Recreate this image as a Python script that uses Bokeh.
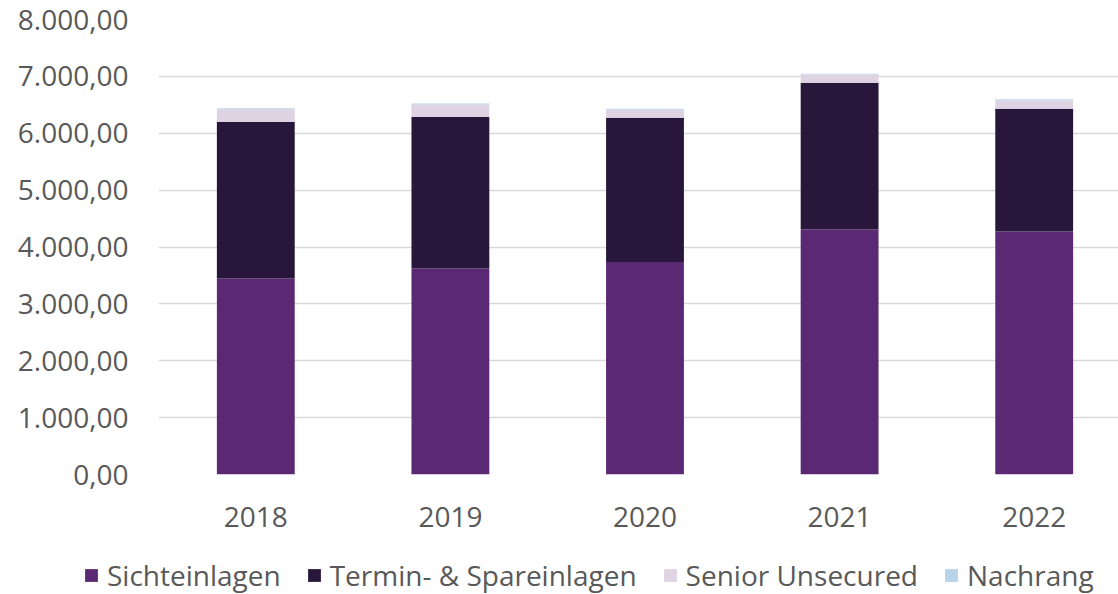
from bokeh.plotting import figure
from bokeh.models import ColumnDataSource, FixedTicker, Range1d, Legend, LegendItem
from bokeh.embed import file_html
from bokeh.resources import INLINE

years = ["2018", "2019", "2020", "2021", "2022"]
sichteinlagen = [3445, 3621, 3738, 4308, 4273]
termin_spar = [2755, 2664, 2535, 2582, 2159]
senior_unsecured = [222, 222, 141, 141, 146]
nachrang = [18, 18, 18, 17, 20]
series_names = ["Sichteinlagen", "Termin- & Spareinlagen", "Senior Unsecured", "Nachrang"]
colors = ["#5B2873", "#28173A", "#DED3E3", "#B9D3E8"]
y_ticks = [0, 1000, 2000, 3000, 4000, 5000, 6000, 7000, 8000]
y_tick_labels = ["0,00", "1.000,00", "2.000,00", "3.000,00", "4.000,00",
                 "5.000,00", "6.000,00", "7.000,00", "8.000,00"]

FONT = "Open Sans"
TXT = "#595959"

xs = list(range(len(years)))
src = ColumnDataSource(dict(x=xs, s=sichteinlagen, t=termin_spar, u=senior_unsecured, n=nachrang))

p = figure(width=1118, height=540, output_backend="svg", toolbar_location=None,
           x_range=Range1d(-0.5, -0.5 + 960 / 194.6), y_range=Range1d(0, 8000),
           min_border_left=158, min_border_right=0, min_border_top=19, min_border_bottom=66)
p.outline_line_color = None

renderers = p.vbar_stack(["s", "t", "u", "n"], x="x", width=0.40, source=src,
                         color=colors, line_color=None)

p.xaxis.ticker = FixedTicker(ticks=xs)
p.xaxis.major_label_overrides = {i: y for i, y in enumerate(years)}
p.yaxis.ticker = FixedTicker(ticks=y_ticks)
p.yaxis.major_label_overrides = {t: l for t, l in zip(y_ticks, y_tick_labels)}

for ax in (p.xaxis[0], p.yaxis[0]):
    ax.axis_line_color = None
    ax.major_tick_line_color = None
    ax.minor_tick_line_color = None
    ax.major_label_text_font = FONT
    ax.major_label_text_font_size = "28px"
    ax.major_label_text_color = TXT
p.yaxis.major_label_standoff = 24
p.xaxis.major_label_standoff = 26

p.xgrid.grid_line_color = None
p.ygrid.grid_line_color = "#D9D9D9"
p.ygrid.grid_line_width = 1.5

# legend strip: a separate root below the chart, so the legend is not clipped by the chart frame
pl = figure(width=1118, height=54, output_backend="svg", toolbar_location=None,
            x_range=Range1d(0, 1), y_range=Range1d(0, 1),
            x_axis_type=None, y_axis_type=None,
            min_border_left=0, min_border_right=0, min_border_top=0, min_border_bottom=0)
pl.outline_line_color = None
swatches = [pl.vbar(x=[5], top=[1], width=0.1, fill_color=c, line_color=None) for c in colors]

legend = Legend(items=[LegendItem(label=n, renderers=[r]) for n, r in zip(series_names, swatches)],
                orientation="horizontal", location=(83, 0))
legend.label_text_font = FONT
legend.label_text_font_size = "28px"
legend.label_text_color = TXT
legend.glyph_width = 16
legend.glyph_height = 16
legend.spacing = 25
legend.label_standoff = 8
legend.border_line_color = None
legend.background_fill_alpha = 0
legend.padding = 0
legend.margin = 0
pl.add_layout(legend, "center")

open("out.html", "w").write(file_html([p, pl], INLINE))
